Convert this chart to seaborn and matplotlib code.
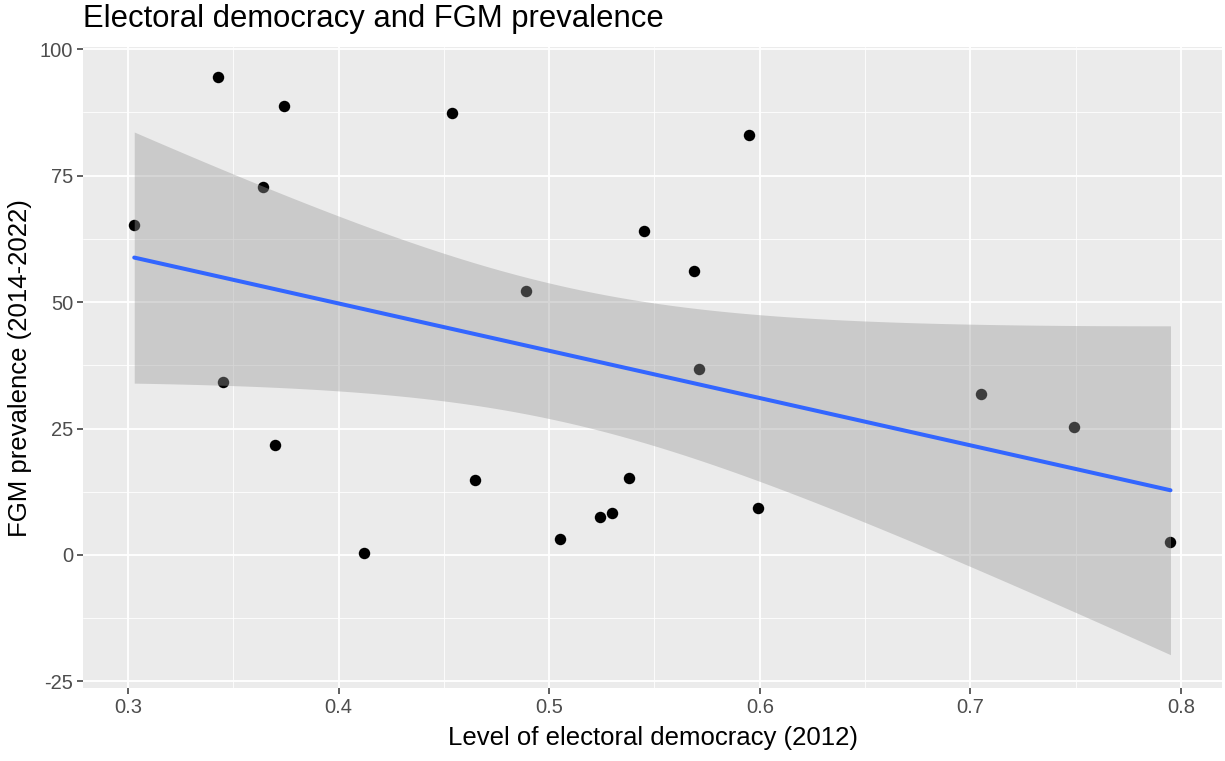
import numpy as np
import pandas as pd
import matplotlib.pyplot as plt
import seaborn as sns
from matplotlib.ticker import MultipleLocator

# data
democracy = [0.303, 0.343, 0.345, 0.364, 0.370, 0.374, 0.412, 0.454,
             0.465, 0.489, 0.505, 0.524, 0.530, 0.538, 0.545, 0.569,
             0.571, 0.595, 0.599, 0.705, 0.749, 0.795]
fgm = [65.3, 94.5, 34.1, 72.7, 21.7, 88.7, 0.3, 87.3,
       14.8, 52.2, 3.1, 7.5, 8.3, 15.2, 64.0, 56.2,
       36.8, 83.1, 9.3, 31.9, 25.3, 2.5]

df = pd.DataFrame({'democracy': democracy, 'fgm': fgm})

sns.set_style("darkgrid", {"axes.facecolor": "#EBEBEB", "grid.color": "white"})
plt.rcParams['font.family'] = ['Liberation Sans', 'DejaVu Sans']

fig = plt.figure(figsize=(12.25, 7.61), dpi=100)
ax = fig.add_axes([0.0678, 0.096, 0.930, 0.842])

# points first, smoother on top (like ggplot)
sns.scatterplot(data=df, x='democracy', y='fgm', color='black', s=68,
                linewidth=0, ax=ax, zorder=2)

# linear fit with 95% confidence band
x = np.array(democracy)
y = np.array(fgm)
n = len(x)
b1, b0 = np.polyfit(x, y, 1)
xs = np.linspace(x.min(), x.max(), 80)
ys = b0 + b1 * xs
resid = y - (b0 + b1 * x)
s = np.sqrt(np.sum(resid ** 2) / (n - 2))
se = s * np.sqrt(1 / n + (xs - x.mean()) ** 2 / np.sum((x - x.mean()) ** 2))
tval = 2.0860  # t(0.975, 20)
ax.fill_between(xs, ys - tval * se, ys + tval * se, color='#999999',
                alpha=0.4, linewidth=0, zorder=3)
sns.lineplot(x=xs, y=ys, color='#3366FF', linewidth=2.9, ax=ax, zorder=4)

ax.set_xlim(0.2787, 0.8196)
ax.set_ylim(-26.3, 100.4)
ax.xaxis.set_minor_locator(MultipleLocator(0.05))
ax.yaxis.set_minor_locator(MultipleLocator(12.5))
ax.set_xticks([0.3, 0.4, 0.5, 0.6, 0.7, 0.8])
ax.set_xticklabels(['0.3', '0.4', '0.5', '0.6', '0.7', '0.8'])
ax.set_yticks([-25, 0, 25, 50, 75, 100])
ax.set_yticklabels(['-25', '0', '25', '50', '75', '100'])

ax.grid(which='major', color='white', linewidth=1.3)
ax.grid(which='minor', color='white', linewidth=0.6)
ax.set_axisbelow(True)
for sp in ax.spines.values():
    sp.set_visible(False)

ax.tick_params(axis='both', which='major', bottom=True, left=True, length=4,
               width=1.1, color='#333333', labelsize=14.5, labelcolor='#4D4D4D', pad=3)
ax.tick_params(axis='both', which='minor', length=0)

ax.set_xlabel('Level of electoral democracy (2012)', fontsize=18.5, color='black', labelpad=7)
ax.set_ylabel('FGM prevalence (2014-2022)', fontsize=18.5, color='black', labelpad=6)
fig.text(0.0678, 0.975, 'Electoral democracy and FGM prevalence', fontsize=22.3,
         ha='left', va='center', color='black')

plt.savefig('out.png', dpi=100)
